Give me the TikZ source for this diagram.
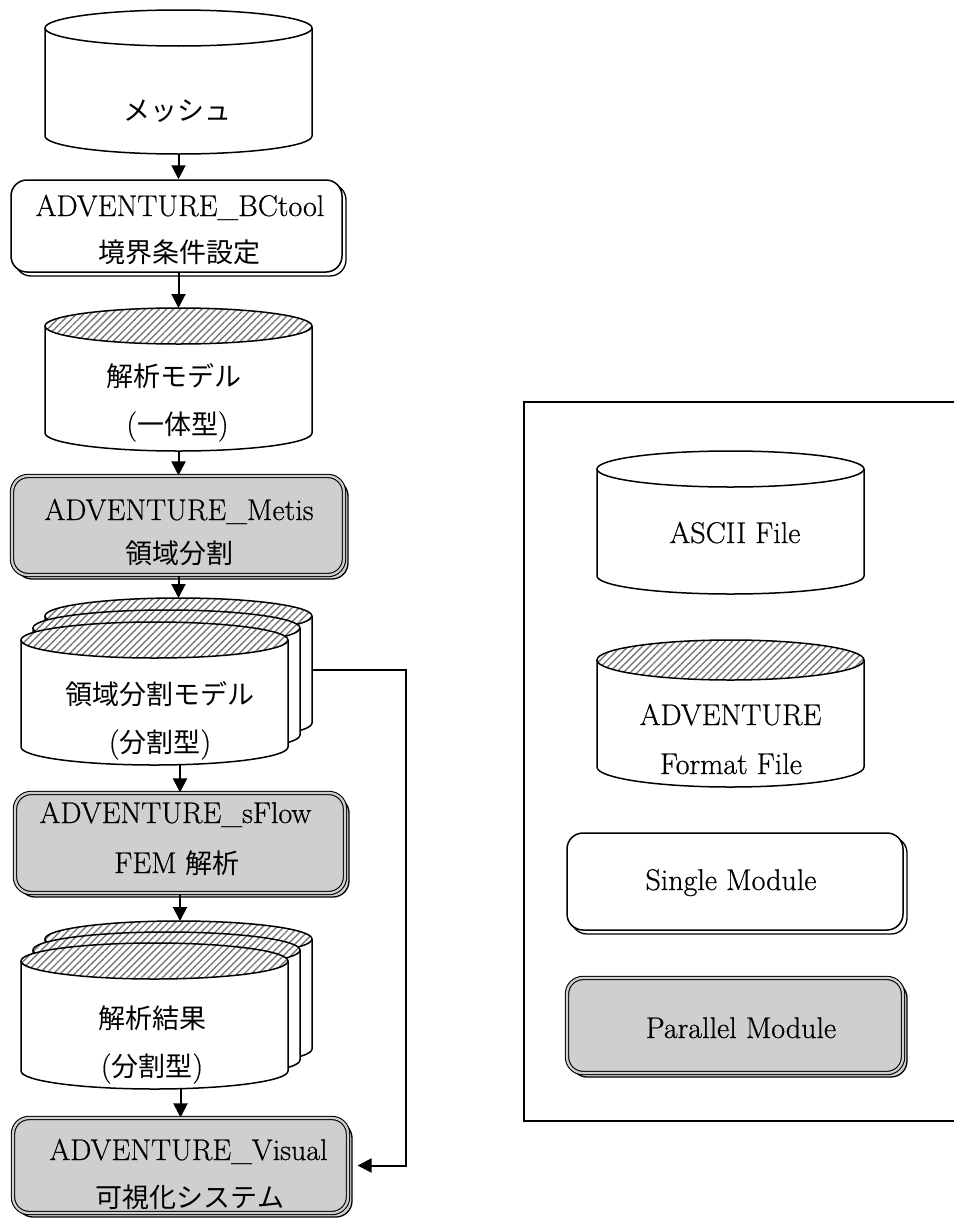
\documentclass[tikz,border=0pt]{standalone}
\usepackage{fontspec}
\setmainfont{Latin Modern Roman}[FakeBold=0.6]
\newfontfamily\jp{Noto Sans CJK JP}[Scale=0.9]
\usetikzlibrary{arrows.meta,patterns.meta,shadows}
\definecolor{boxgray}{RGB}{207,207,207}
\definecolor{hatchgray}{RGB}{120,120,120}
\newcommand{\cylshape}[5]{%
  \fill[white] (#1-133.5,#2) -- (#1-133.5,#3) arc[start angle=180,end angle=360,x radius=133.5pt,y radius=#4pt] -- (#1+133.5,#2) -- cycle;
  \draw[cylline] (#1-133.5,#2) -- (#1-133.5,#3) arc[start angle=180,end angle=360,x radius=133.5pt,y radius=#4pt] -- (#1+133.5,#2);
  \fill[white] (#1,#2) ellipse[x radius=133.5pt,y radius=#4pt];
  \ifx#5h\fill[hatch] (#1,#2) ellipse[x radius=133.5pt,y radius=#4pt];\fi
  \draw[cylline] (#1,#2) ellipse[x radius=133.5pt,y radius=#4pt];
}
\tikzset{
  cylline/.style={line width=1.5pt},
  hatch/.style={pattern={Lines[angle=45,distance=5pt,line width=1.4pt]},pattern color=hatchgray},
  area/.style={inner sep=0pt,outer sep=0pt,minimum width=267pt},
  single/.style={draw,line width=1.5pt,rounded corners=16pt,fill=white,inner sep=0pt,
    general shadow={shadow xshift=4pt,shadow yshift=-4pt,fill=white,draw=black,line width=1.3pt}},
  parallel/.style={draw,line width=1.1pt,rounded corners=16pt,fill=boxgray,inner sep=0pt,
    double=boxgray,double distance=2.2pt,
    general shadow={shadow xshift=4pt,shadow yshift=-4pt,fill=boxgray,draw=black,line width=1.3pt}},
  lat/.style={anchor=base,inner sep=0pt,font=\fontsize{30}{36}\selectfont},
  cjk/.style={anchor=base,inner sep=0pt,font=\fontsize{30}{36}\selectfont\jp},
  arr/.style={-{Triangle[length=14pt,width=14pt]},line width=2pt},
  frame/.style={line width=1.4pt}
}
\begin{document}
\begin{tikzpicture}[x=1pt,y=-1pt]
\useasboundingbox (0,0) rectangle (953,1218);

% ---- cylinders ----
\cylshape{178.5}{28}{136}{18}{n}
\node[area,minimum height=144pt] (c1) at (178.5,82) {};

\cylshape{178.5}{326}{433}{18}{h}
\node[area,minimum height=143pt] (c2) at (178.5,379.5) {};

\cylshape{178.5}{616}{723}{18}{h}
\node[area,minimum height=143pt] (c3b) at (178.5,669.5) {};
\cylshape{166.5}{628}{735}{18}{h}
\node[area,minimum height=143pt] (c3m) at (166.5,681.5) {};
\cylshape{154.5}{640}{747}{18}{h}
\node[area,minimum height=143pt] (c3f) at (154.5,693.5) {};

\cylshape{178.5}{939}{1049}{18}{h}
\node[area,minimum height=146pt] (c4b) at (178.5,994) {};
\cylshape{166.5}{950}{1060}{18}{h}
\node[area,minimum height=146pt] (c4m) at (166.5,1005) {};
\cylshape{154.5}{961}{1071}{18}{h}
\node[area,minimum height=146pt] (c4f) at (154.5,1016) {};

% ---- module boxes ----
\node[single,minimum width=331pt,minimum height=92pt] (b1) at (176.5,226) {};
\node[parallel,minimum width=332pt,minimum height=99pt] (b2) at (178,525.5) {};
\node[parallel,minimum width=330pt,minimum height=100pt] (b3) at (180,843) {};
\node[parallel,minimum width=335pt,minimum height=95pt] (b4) at (180.5,1165.5) {};

% ---- texts ----
\node[cjk] (t1) at (177.5,120) {メッシュ};
\node[lat] (t2a) at (180,216) {ADVENTURE\_BCtool};
\node[cjk] (t2b) at (179,262) {境界条件設定};
\node[cjk] (t3a) at (173.5,386) {解析モデル};
\node[lat] (t3b) at (177.5,434) {({\jp 一体型})};
\node[lat] (t4a) at (179,520) {ADVENTURE\_Metis};
\node[cjk] (t4b) at (179,563) {領域分割};
\node[cjk] (t5a) at (159.5,704) {領域分割モデル};
\node[lat] (t5b) at (160,752) {({\jp 分割型})};
\node[lat] (t6a) at (175.5,823) {ADVENTURE\_sFlow};
\node[lat] (t6b) at (177,873) {FEM {\jp 解析}};
\node[cjk] (t7a) at (152,1028) {解析結果};
\node[lat] (t7b) at (152,1076) {({\jp 分割型})};
\node[lat] (t8a) at (188.5,1160) {ADVENTURE\_Visual};
\node[cjk] (t8b) at (190,1207) {可視化システム};

% ---- connectors ----
\coordinate (fbx) at (406,0);
\draw[arr] (c1.south) -- (c1.south |- b1.north);
\draw[arr] (c2.north |- b1.south) -- (c2.north);
\draw[arr] (c2.south) -- (c2.south |- b2.north);
\draw[arr] (c3b.north |- b2.south) -- (c3b.north);
\draw[arr] (b3.north |- c3f.south) -- (b3.north);
\draw[arr] (b3.south) -- (b3.south |- c4b.north);
\draw[arr] (b4.north |- c4f.south) -- (b4.north);
\draw[arr,shorten >=9pt] (c3b.east) -- (c3b.east -| fbx) |- (b4.east);

% ---- legend ----
\draw[frame] (960,402) -- (524,402) -- (524,1121) -- (960,1121);
\cylshape{730.5}{469}{576}{18}{n}
\node[area,minimum height=143pt] (l1) at (730.5,522.5) {};
\cylshape{730.5}{660}{767}{20}{h}
\node[area,minimum height=147pt] (l2) at (730.5,713.5) {};
\node[single,minimum width=336pt,minimum height=97pt] (l3) at (735,881.5) {};
\node[parallel,minimum width=336pt,minimum height=95pt] (l4) at (735,1025.5) {};
\node[lat] (tl1) at (735,543) {ASCII File};
\node[lat] (tl2a) at (730.5,725) {ADVENTURE};
\node[lat] (tl2b) at (731,774) {Format File};
\node[lat] (tl3) at (731,890) {Single Module};
\node[lat] (tl4) at (741,1038) {Parallel Module};
\end{tikzpicture}
\end{document}
